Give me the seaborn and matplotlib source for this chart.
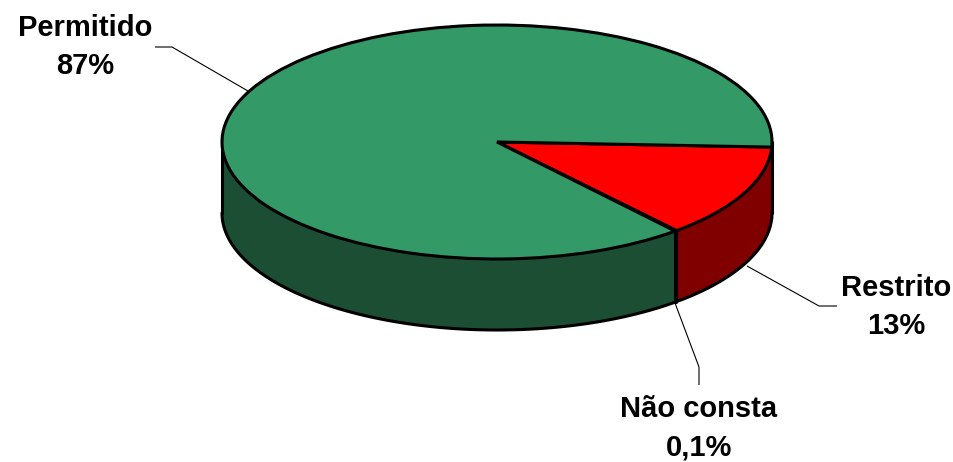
import numpy as np
import seaborn as sns
import matplotlib.pyplot as plt
from matplotlib.patches import Wedge
from matplotlib.transforms import Affine2D

labels = ["Restrito", "Não consta", "Permitido"]
shares = [13, 0.1, 87]
pct_text = ["13%", "0,1%", "87%"]
top_colors = ["#FF0000", "#FFFFFF", "#339966"]
side_colors = ["#800000", "#808080", "#1C4E33"]

sns.set_theme(style="white")
plt.rcParams["font.family"] = ["Liberation Sans", "DejaVu Sans"]
plt.rcParams["lines.solid_capstyle"] = "round"

W, H = 954, 462
fig = plt.figure(figsize=(W / 100, H / 100), dpi=100)
ax = fig.add_axes([0, 0, 1, 1])

rx, ry, depth = 275, 117, 71
cx, cy = 497, 320  # centre of the top face, y measured up from the bottom
start = -2.5
edge = 2.2


def ell(t):
    return cx + rx * np.cos(np.radians(t)), cy + ry * np.sin(np.radians(t))


# side wall, only the front half of the rim can be seen
fracs = np.array(shares) / sum(shares)
angle = start
for frac, col in zip(fracs, side_colors):
    a0, a1 = angle - 360 * frac, angle
    angle = a0
    t0, t1 = max(a0, -180), min(a1, 0)
    if t1 <= t0:
        continue
    t = np.linspace(t0, t1, 120)
    x, y = ell(t)
    ax.fill_between(x, y, y - depth, color=col, lw=0, zorder=1)
    ax.plot(x, y - depth, color="black", lw=edge, zorder=2)
    xe, ye = ell(t0)
    ax.plot([xe, xe], [ye, ye - depth], color="black", lw=edge, zorder=2)

# right end of the wall, between the rightmost point and the first slice
t = np.linspace(start, 0, 10)
x, y = ell(t)
ax.fill_between(x, y, y - depth, color=side_colors[0], lw=0, zorder=1)
ax.plot(x, y - depth, color="black", lw=edge, zorder=2)
ax.plot([cx + rx, cx + rx], [cy, cy - depth], color="black", lw=edge, zorder=2)

# top face
ax.pie(shares, colors=top_colors, startangle=start, counterclock=False,
       wedgeprops={"edgecolor": "black", "linewidth": edge, "zorder": 3})

ax.set_aspect("auto")
ax.set_xlim(0, W)
ax.set_ylim(0, H)
ax.axis("off")

# pie() draws on a unit circle, so stretch its wedges onto the ellipse
squash = Affine2D().scale(rx, ry).translate(cx, cy)
for p in ax.patches:
    if isinstance(p, Wedge):
        p.set_transform(squash + ax.transData)

# leader lines and labels, pixel positions from the top left
leaders = [
    ([747, 819, 837], [266, 306, 306]),
    ([675, 699, 699], [303, 367, 385]),
    ([248, 172, 155], [91, 47, 47]),
]
label_pos = [(896, 307), (699, 428), (85, 47)]
for name, pct, (lx, ly), (px, py) in zip(labels, pct_text, leaders, label_pos):
    ax.plot(lx, H - np.array(ly), color="black", lw=0.8, zorder=4,
            solid_capstyle="butt")
    ax.text(px, H - py, f"{name}\n{pct}", ha="center", va="center",
            fontsize=21, fontweight="bold", color="black", linespacing=1.47)

fig.savefig("out.png", dpi=100, facecolor="white")
